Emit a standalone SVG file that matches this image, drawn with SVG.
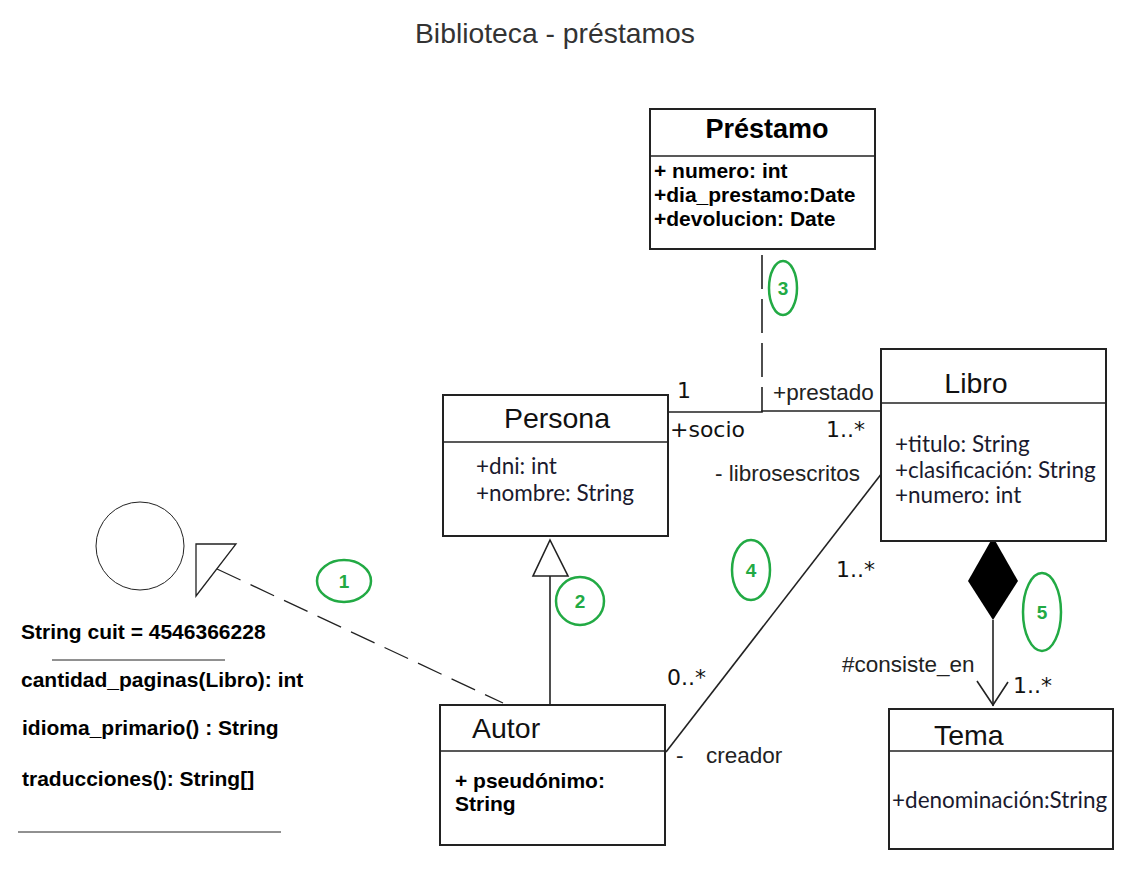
<svg xmlns="http://www.w3.org/2000/svg" width="1139" height="869" viewBox="0 0 1139 869">
<style>
.box{fill:#fff;stroke:#222;stroke-width:2}
.ln{stroke:#222;stroke-width:1.6;fill:none}
.hdr{font-family:"Liberation Sans",Arial,sans-serif;font-size:28.5px;fill:#111}
.bh{font-family:"Liberation Sans",Arial,sans-serif;font-size:21px;font-weight:bold;fill:#000}
.lb{font-family:"Liberation Sans",Arial,sans-serif;font-size:21px;font-weight:bold;fill:#000}
.cal{font-family:Lato,"Open Sans",sans-serif;font-size:22.5px;fill:#1a1a2e}
.lbl{font-family:"Liberation Sans",Arial,sans-serif;font-size:22.5px;fill:#222}
.mult{font-family:"DejaVu Sans",sans-serif;font-size:22px;fill:#111}
.num ellipse{fill:none;stroke:#22aa44;stroke-width:2.5}
.num text{font-family:"Liberation Sans",Arial,sans-serif;font-size:19px;font-weight:bold;fill:#22aa44;text-anchor:middle}
</style>
<rect width="1139" height="869" fill="#fff"/>
<text x="415" y="43" font-family="Liberation Sans, Arial, sans-serif" font-size="28.3" fill="#333">Biblioteca - préstamos</text>

<g id="connectors">
  <line x1="762" y1="255" x2="762" y2="412" class="ln" stroke-dasharray="34,10"/>
  <polyline points="668,412 762,412 762,411 882,411" class="ln"/>
  <line x1="882" y1="473" x2="666" y2="752" class="ln" stroke-width="1.3"/>
  <line x1="550" y1="705" x2="550" y2="576" class="ln" stroke-width="2"/>
  <polygon points="550,540 533,576 568,576" fill="#fff" stroke="#222" stroke-width="1.6"/>
  <line x1="217" y1="569" x2="503" y2="703" stroke="#222" stroke-width="1.3" stroke-dasharray="26,11"/>
  <polygon points="993,537 1018,581 993,620 968,581" fill="#000"/>
  <line x1="993" y1="620" x2="993" y2="706" class="ln" stroke-width="2"/>
  <polyline points="977,681 993,705 1008,682" class="ln"/>
</g>

<g id="interface">
  <circle cx="140" cy="546" r="44" fill="none" stroke="#222" stroke-width="1"/>
  <polygon points="196,544 236,544 196,596" fill="none" stroke="#222" stroke-width="1.3"/>
  <text x="21" y="639" class="lb">String cuit = 4546366228</text>
  <line x1="52" y1="660" x2="225" y2="660" stroke="#222" stroke-width="1"/>
  <text x="21" y="687" class="lb">cantidad_paginas(Libro): int</text>
  <text x="22" y="735" class="lb">idioma_primario() : String</text>
  <text x="22" y="786" class="lb">traducciones(): String[]</text>
  <line x1="18" y1="832" x2="281" y2="832" stroke="#222" stroke-width="1"/>
</g>

<g id="prestamo">
  <rect x="650" y="109" width="225" height="140" class="box"/>
  <line x1="650" y1="156" x2="875" y2="156" class="ln" stroke-width="2"/>
  <text x="767" y="138" text-anchor="middle" font-family="Liberation Sans, Arial, sans-serif" font-size="27" font-weight="bold">Préstamo</text>
  <text x="654" y="178" class="bh">+ numero: int</text>
  <text x="654" y="202" class="bh">+dia_prestamo:Date</text>
  <text x="654" y="226" class="bh">+devolucion: Date</text>
</g>

<g id="persona">
  <rect x="443" y="395" width="225" height="141" class="box"/>
  <line x1="443" y1="442" x2="668" y2="442" class="ln" stroke-width="2"/>
  <text x="557" y="428" text-anchor="middle" class="hdr">Persona</text>
  <text x="476" y="474" class="cal">+dni: int</text>
  <text x="476" y="501" class="cal">+nombre: String</text>
</g>

<g id="libro">
  <rect x="881" y="349" width="225" height="192" class="box"/>
  <line x1="881" y1="403" x2="1106" y2="403" class="ln" stroke-width="2"/>
  <text x="976" y="393" text-anchor="middle" class="hdr">Libro</text>
  <text x="895" y="452" class="cal">+titulo: String</text>
  <text x="895" y="478" class="cal">+clasificación: String</text>
  <text x="895" y="503" class="cal">+numero: int</text>
</g>

<g id="autor">
  <rect x="440" y="705" width="225" height="140" class="box"/>
  <line x1="440" y1="751" x2="665" y2="751" class="ln" stroke-width="2"/>
  <text x="472" y="738" class="hdr">Autor</text>
  <text x="455" y="788" class="lb">+ pseudónimo:</text>
  <text x="455" y="811" class="lb">String</text>
</g>

<g id="tema">
  <rect x="889" y="709" width="224" height="140" class="box"/>
  <line x1="889" y1="751" x2="1113" y2="751" class="ln" stroke-width="2"/>
  <text x="934" y="745" class="hdr">Tema</text>
  <text x="892" y="808" class="cal">+denominación:String</text>
</g>

<g id="labels">
  <text x="677" y="398" class="mult">1</text>
  <text x="773" y="400" class="lbl">+prestado</text>
  <text x="670" y="437" class="mult" font-size="24.4">+socio</text>
  <text x="826" y="437" class="mult" font-size="24">1..*</text>
  <text x="715" y="481" class="lbl">- librosescritos</text>
  <text x="836" y="577" class="mult">1..*</text>
  <text x="667" y="685" class="mult">0..*</text>
  <text x="676" y="763" class="lbl">-</text>
  <text x="706" y="763" class="lbl" fill="#333">creador</text>
  <text x="842" y="672" class="lbl">#consiste_en</text>
  <text x="1013" y="693" class="mult" font-size="24">1..*</text>
</g>

<g id="numbers" class="num">
  <ellipse cx="344" cy="581" rx="27" ry="21"/><text x="344" y="588">1</text>
  <ellipse cx="580" cy="601" rx="24" ry="24"/><text x="580" y="608">2</text>
  <ellipse cx="783" cy="288" rx="14" ry="27"/><text x="783" y="295">3</text>
  <ellipse cx="751" cy="570" rx="19" ry="30"/><text x="751" y="577">4</text>
  <ellipse cx="1042" cy="612" rx="19" ry="39"/><text x="1042" y="619">5</text>
</g>
</svg>
